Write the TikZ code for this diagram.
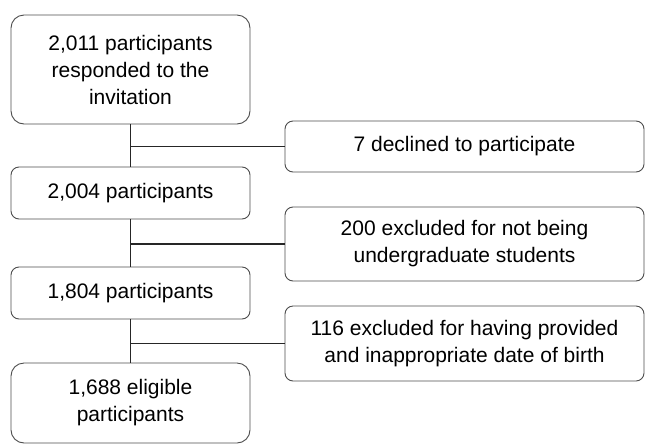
\documentclass[tikz,border=0pt]{standalone}
\usepackage{fontspec}
\setmainfont{Liberation Sans}
\usepackage{xcolor}
\usepackage{tikz}

\tikzset{
  stage/.style={draw=black!70, line width=0.9pt, rounded corners=8pt, minimum width=239pt,
    align=center, inner sep=0pt, font=\fontsize{21}{27}\selectfont},
  excluded/.style={stage, minimum width=359pt},
  link/.style={draw=black!85, line width=1.1pt},
}

\begin{document}
\begin{tikzpicture}[x=1pt,y=-1pt]
          \useasboundingbox (0,0) rectangle (645,445);

          \node[stage, minimum height=109pt, rounded corners=13pt] (p2011) at (130.5,69.5) {2,011 participants\\responded to the\\invitation};
          \node[stage, minimum height=52pt] (p2004) at (130.5,193) {2,004 participants};
          \node[stage, minimum height=52pt] (p1804) at (130.5,293) {1,804 participants};
          \node[stage, minimum height=80pt, rounded corners=13pt] (p1688) at (130.5,403) {1,688 eligible\\participants};

          \node[excluded, minimum height=51pt] (declined) at (464.5,146.5) {7 declined to participate};
          \node[excluded, minimum height=74pt] (notstudent) at (464.5,244) {200 excluded for not being\\undergraduate students};
          \node[excluded, minimum height=75pt] (badbirth) at (464.5,343.5) {116 excluded for having provided\\and inappropriate date of birth};

          \draw[link] (p2011) -- (p2004);
          \draw[link] (p2004) -- (p1804);
          \draw[link] (p1804) -- (p1688);
          \draw[link] (p2011.south |- declined.west) -- (declined.west);
          \draw[link] (p2004.south |- notstudent.west) -- (notstudent.west);
          \draw[link] (p1804.south |- badbirth.west) -- (badbirth.west);
        \end{tikzpicture}
\end{document}
